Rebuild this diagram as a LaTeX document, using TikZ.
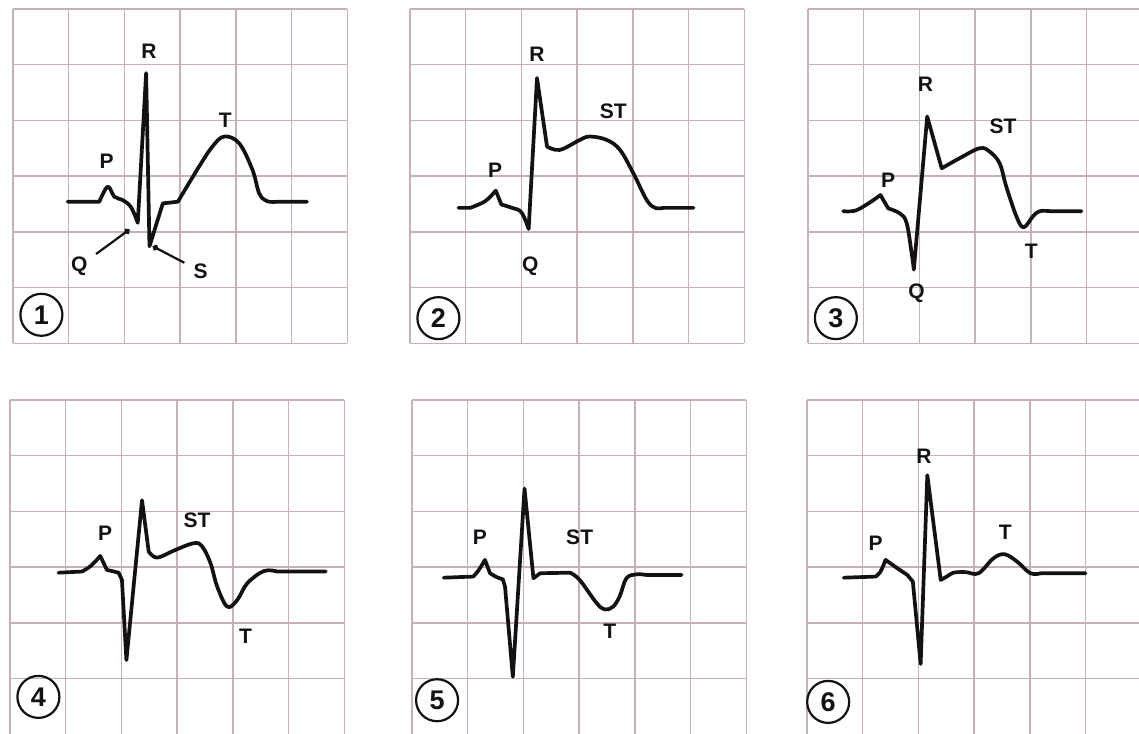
\documentclass[tikz,border=0pt]{standalone}
\usepackage{fontspec}
\setsansfont{Liberation Sans}[BoldFont={Liberation Sans Bold}]
\usetikzlibrary{arrows.meta}
\definecolor{ECGgrid}{RGB}{198,176,190}
\definecolor{ECGink}{RGB}{18,18,18}
\tikzset{
  panel/.style={x=55.7pt,y=-55.7pt},
  gridln/.style={draw=ECGgrid,line width=1.4pt},
  trace/.style={draw=ECGink,line width=3.7pt,line join=round,line cap=round},
  wave/.style={text=ECGink,font=\sffamily\bfseries\fontsize{21}{24}\selectfont,inner sep=2pt},
  lead/.style={draw=ECGink,line width=2.2pt,-{Circle[length=6pt]},shorten <=8pt},
  num/.style={circle,draw=ECGink,line width=2.2pt,minimum size=42pt,inner sep=0pt,
              text=ECGink,font=\sffamily\bfseries\fontsize{27}{30}\selectfont},
  ecggrid/.pic={\foreach \k in {0,...,6} {\draw[gridln] (\k,0) -- (\k,6) (0,\k) -- (6,\k);}}
}

\begin{document}
\begin{tikzpicture}[x=1pt,y=-1pt]
  \useasboundingbox[fill=white] (0,0) rectangle (1139,733);

  % panel 1: normal complex
  \begin{scope}[shift={(13pt,-9pt)},panel]
    \pic {ecggrid};
    \draw[trace] (0.98,3.46) -- (1.55,3.46)
      -- plot[smooth,tension=0.6] coordinates {(1.55,3.46) (1.70,3.19) (1.82,3.37) (1.97,3.43) (2.12,3.56) (2.24,3.84)}
      -- (2.39,1.15) -- (2.45,4.26) -- (2.69,3.49) -- (2.96,3.46)
      -- plot[smooth,tension=0.6] coordinates {(2.96,3.46) (3.34,2.83) (3.58,2.47) (3.79,2.29) (4.06,2.41) (4.30,2.89) (4.42,3.31) (4.56,3.45) (4.75,3.46)}
      -- (5.28,3.46);
    \node[wave] (r1) at (2.44,0.76) {R};
    \node[wave] (p1) at (1.68,2.74) {P};
    \node[wave] (t1) at (3.81,1.99) {T};
    \node[wave] (q1) at (1.19,4.62) {Q};
    \node[wave] (s1) at (3.37,4.71) {S};
    \coordinate (qtip1) at (2.09,3.96);
    \coordinate (stip1) at (2.51,4.26);
    \draw[lead] (q1) -- (qtip1);
    \draw[lead] (s1) -- (stip1);
    \node[num] (n1) at (0.51,5.49) {1};
  \end{scope}

  % panel 2
  \begin{scope}[shift={(410pt,-9pt)},panel]
    \pic {ecggrid};
    \draw[trace] (0.87,3.57) -- (1.08,3.57)
      -- plot[smooth,tension=0.6] coordinates {(1.08,3.57) (1.35,3.45) (1.54,3.26)}
      -- (1.64,3.51)
      -- plot[smooth,tension=0.6] coordinates {(1.64,3.51) (1.83,3.57) (2.00,3.65) (2.13,3.95)}
      -- (2.28,1.24) -- (2.46,2.47)
      -- plot[smooth,tension=0.6] coordinates {(2.46,2.47) (2.69,2.53) (3.05,2.35) (3.23,2.29) (3.53,2.35) (3.77,2.53) (4.01,2.95) (4.25,3.43) (4.40,3.57) (4.55,3.57)}
      -- (5.09,3.57);
    \node[wave] (r2) at (2.28,0.82) {R};
    \node[wave] (st2) at (3.65,1.84) {ST};
    \node[wave] (p2) at (1.53,2.89) {P};
    \node[wave] (q2) at (2.16,4.62) {Q};
    \node[num] (n2) at (0.51,5.55) {2};
  \end{scope}

  % panel 3
  \begin{scope}[shift={(808pt,-9pt)},panel]
    \pic {ecggrid};
    \draw[trace] (0.63,3.63)
      -- plot[smooth,tension=0.6] coordinates {(0.63,3.63) (0.85,3.62) (1.10,3.48) (1.30,3.34)}
      -- (1.44,3.58)
      -- plot[smooth,tension=0.6] coordinates {(1.44,3.58) (1.65,3.67) (1.77,3.84) (1.86,4.38) (1.90,4.68)}
      -- (2.14,1.93) -- (2.40,2.86)
      -- plot[smooth,tension=0.6] coordinates {(2.40,2.86) (2.72,2.68) (3.08,2.50) (3.26,2.56) (3.44,2.77) (3.56,3.19) (3.74,3.72) (3.87,3.92) (4.04,3.72) (4.16,3.63) (4.35,3.63)}
      -- (4.91,3.63);
    \node[wave] (r3) at (2.11,1.36) {R};
    \node[wave] (st3) at (3.50,2.10) {ST};
    \node[wave] (p3) at (1.44,3.07) {P};
    \node[wave] (t3) at (4.01,4.35) {T};
    \node[wave] (q3) at (1.95,5.10) {Q};
    \node[num] (n3) at (0.50,5.55) {3};
  \end{scope}

  % panel 4
  \begin{scope}[shift={(10pt,-400pt)},panel]
    \pic {ecggrid};
    \draw[trace] (0.87,3.10) -- (1.29,3.08)
      -- plot[smooth,tension=0.6] coordinates {(1.29,3.08) (1.45,2.98) (1.62,2.80)}
      -- (1.74,3.05) -- (1.95,3.10) -- (2.01,3.23) -- (2.09,4.67) -- (2.37,1.80) -- (2.49,2.72)
      -- plot[smooth,tension=0.6] coordinates {(2.49,2.72) (2.64,2.83) (2.95,2.70) (3.30,2.57) (3.45,2.63) (3.60,2.93) (3.72,3.35) (3.90,3.71) (4.08,3.59) (4.26,3.29) (4.56,3.07) (4.80,3.08)}
      -- (5.67,3.08);
    \node[wave] (p4) at (1.71,2.40) {P};
    \node[wave] (st4) at (3.36,2.16) {ST};
    \node[wave] (t4) at (4.23,4.25) {T};
    \node[num] (n4) at (0.51,5.33) {4};
  \end{scope}

  % panel 5
  \begin{scope}[shift={(412pt,-400pt)},panel]
    \pic {ecggrid};
    \draw[trace] (0.57,3.19) -- (1.10,3.17)
      -- plot[smooth,tension=0.6] coordinates {(1.10,3.17) (1.20,3.05) (1.31,2.87)}
      -- (1.40,3.11)
      -- plot[smooth,tension=0.6] coordinates {(1.40,3.11) (1.52,3.18) (1.63,3.22)}
      -- (1.67,3.35) -- (1.81,4.97) -- (2.02,1.59) -- (2.18,3.20) -- (2.30,3.11) -- (2.84,3.10)
      -- plot[smooth,tension=0.6] coordinates {(2.84,3.10) (3.01,3.23) (3.31,3.64) (3.46,3.76) (3.61,3.71) (3.73,3.52) (3.85,3.20) (4.03,3.13) (4.20,3.14)}
      -- (4.84,3.14);
    \node[wave] (p5) at (1.22,2.46) {P};
    \node[wave] (st5) at (3.01,2.46) {ST};
    \node[wave] (t5) at (3.55,4.16) {T};
    \node[num] (n5) at (0.45,5.39) {5};
  \end{scope}

  % panel 6
  \begin{scope}[shift={(807pt,-400pt)},panel]
    \pic {ecggrid};
    \draw[trace] (0.66,3.19) -- (1.23,3.17)
      -- plot[smooth,tension=0.6] coordinates {(1.23,3.17) (1.32,3.08) (1.41,2.87)}
      -- (1.62,3.02) -- (1.80,3.14) -- (1.90,3.26) -- (2.04,4.74) -- (2.16,1.35) -- (2.40,3.23)
      -- plot[smooth,tension=0.6] coordinates {(2.40,3.23) (2.51,3.17) (2.63,3.10) (2.85,3.09) (3.08,3.11) (3.35,2.84) (3.55,2.77) (3.77,2.90) (4.01,3.11) (4.20,3.11)}
      -- (5.00,3.11);
    \node[wave] (r6) at (2.10,1.01) {R};
    \node[wave] (p6) at (1.23,2.57) {P};
    \node[wave] (t6) at (3.56,2.37) {T};
    \node[num] (n6) at (0.38,5.42) {6};
  \end{scope}
\end{tikzpicture}
\end{document}
